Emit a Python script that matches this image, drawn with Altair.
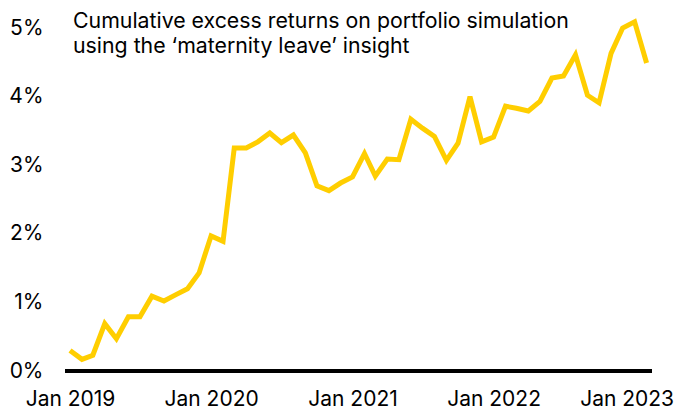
import altair as alt
import pandas as pd

months = pd.date_range("2019-01-01", "2023-02-01", freq="MS").strftime("%Y-%m-%d").tolist()
returns = [
    0.30, 0.17, 0.23, 0.69, 0.47, 0.79, 0.79, 1.09, 1.02, 1.11, 1.20, 1.43,
    1.97, 1.89, 3.25, 3.25, 3.34, 3.47, 3.33, 3.44, 3.18, 2.70, 2.63, 2.74,
    2.83, 3.17, 2.84, 3.09, 3.08, 3.67, 3.54, 3.42, 3.07, 3.32, 4.00, 3.34,
    3.41, 3.86, 3.83, 3.79, 3.93, 4.27, 4.30, 4.61, 4.02, 3.91, 4.63, 5.00,
    5.09, 4.49,
]
y_ticks = [0, 1, 2, 3, 4, 5]
x_ticks = ["2019-01-01", "2020-01-01", "2021-01-01", "2022-01-01", "2023-01-01"]
title_lines = ["Cumulative excess returns on portfolio simulation",
               "using the \u2018maternity leave\u2019 insight"]

df = pd.DataFrame({"month": months, "value": returns})

FONT = "Inter"

x_scale = alt.Scale(domain=["2018-12-19", "2023-02-15"])
y_scale = alt.Scale(domain=[0, 5], nice=False, zero=False)

line = alt.Chart(df).mark_line(color="#FFCE00", strokeWidth=5, strokeJoin="miter", clip=False).encode(
    x=alt.X("month:T", scale=x_scale,
            axis=alt.Axis(title=None, values=x_ticks, format="Jan %Y", labelFontSize=21,
                          labelFont=FONT, labelColor="#000", ticks=False, domain=False,
                          grid=False, labelPadding=17, labelFlush=False, labelOverlap=False,
                          labelOffset=alt.ExprRef("year(datum.value) == 2023 ? -8 : 0"))),
    y=alt.Y("value:Q", scale=y_scale,
            axis=alt.Axis(title=None, values=y_ticks, labelExpr="datum.value + '%'",
                          labelFontSize=21, labelFont=FONT, labelColor="#000",
                          ticks=False, domain=False, grid=False, labelPadding=22)),
)

baseline = alt.Chart(pd.DataFrame({"y": [0]})).mark_rule(color="#000", strokeWidth=4).encode(
    y=alt.Y("y:Q", scale=y_scale),
    x=alt.value(0), x2=alt.value(587),
)

title = alt.Chart(pd.DataFrame({"t": [title_lines]})).mark_text(
    align="left", baseline="alphabetic", font=FONT, fontSize=21.3, color="#000",
    lineHeight=25,
).encode(text="t", x=alt.value(8), y=alt.value(0))

chart = alt.layer(baseline, line, title).properties(
    width=587, height=343,
    autosize=alt.AutoSizeParams(type="none"),
    padding={"left": 57, "top": 20, "right": 22, "bottom": 35},
).configure_view(stroke=None)

chart.save("out.html", embed_options={"renderer": "svg", "actions": False})
